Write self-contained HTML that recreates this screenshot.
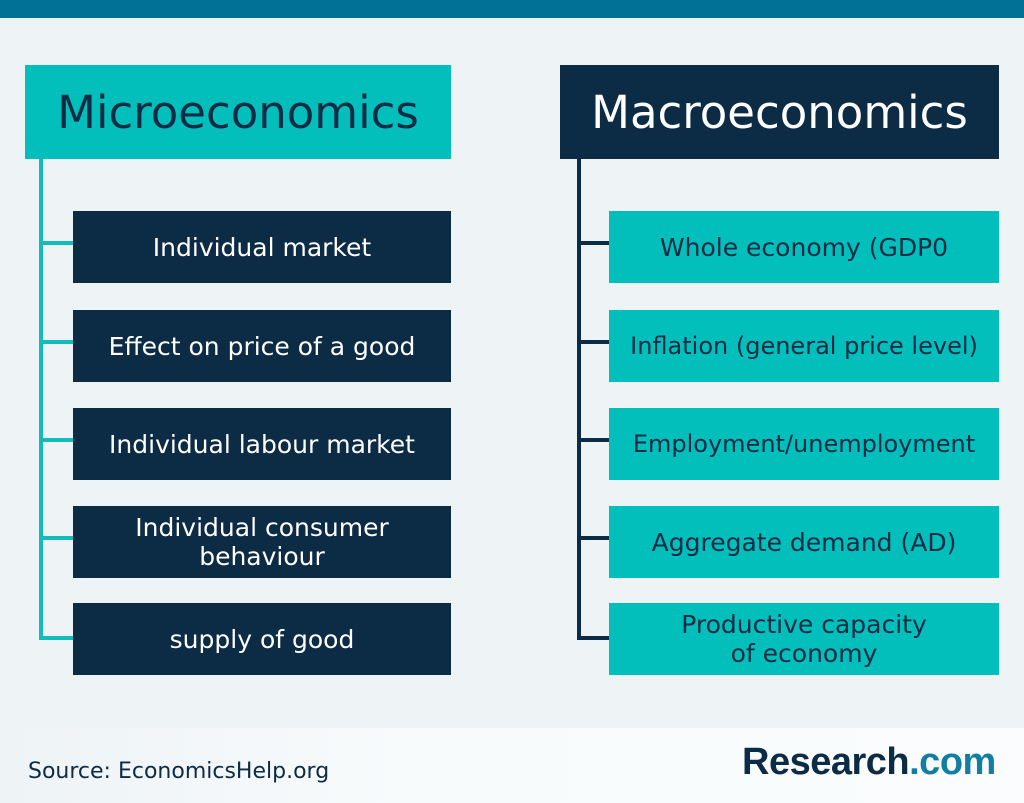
<!DOCTYPE html>
<html><head><meta charset="utf-8"><style>
body{margin:0;width:1024px;height:803px;overflow:hidden;background:#eef3f6;font-family:"DejaVu Sans","Liberation Sans",sans-serif;position:relative}
div{position:absolute;box-sizing:border-box}
.top{left:0;top:0;width:1024px;height:18px;background:#017296}
.hdr{top:65px;height:94px;display:flex;align-items:center;justify-content:center;font-size:45px}
.item{height:72px;display:flex;align-items:center;justify-content:center;text-align:center;font-size:25px;line-height:29px}
.l{left:73px;width:378px;background:#0c2b45;color:#fff}
.r{left:609px;width:390px;background:#03bfbc;color:#0c2b45}
.line{background:#14bcb9}
.rline{background:#0c2b45}
.foot{left:0;top:728px;width:1024px;height:75px;background:linear-gradient(90deg,#eef3f6,#f8fbfc 40%,#fafcfd)}
</style></head><body>
<div class="top"></div>
<div class="foot"></div>
<div class="hdr" style="left:25px;width:426px;background:#03bfbc;color:#0c2b45">Microeconomics</div>
<div class="hdr" style="left:560px;width:439px;background:#0c2b45;color:#fff">Macroeconomics</div>
<div class="line" style="left:39px;top:158px;width:4px;height:482px"></div>
<div class="rline" style="left:577px;top:158px;width:4px;height:482px"></div>
<div class="line" style="left:39px;top:241px;width:34px;height:4px"></div>
<div class="line" style="left:39px;top:340px;width:34px;height:4px"></div>
<div class="line" style="left:39px;top:438px;width:34px;height:4px"></div>
<div class="line" style="left:39px;top:536px;width:34px;height:4px"></div>
<div class="line" style="left:39px;top:636px;width:34px;height:4px"></div>
<div class="rline" style="left:577px;top:241px;width:32px;height:4px"></div>
<div class="rline" style="left:577px;top:340px;width:32px;height:4px"></div>
<div class="rline" style="left:577px;top:438px;width:32px;height:4px"></div>
<div class="rline" style="left:577px;top:536px;width:32px;height:4px"></div>
<div class="rline" style="left:577px;top:636px;width:32px;height:4px"></div>
<div class="item l" style="top:211px">Individual market</div>
<div class="item l" style="top:310px">Effect on price of a good</div>
<div class="item l" style="top:408px">Individual labour market</div>
<div class="item l" style="top:506px">Individual consumer<br>behaviour</div>
<div class="item l" style="top:603px">supply of good</div>
<div class="item r" style="top:211px">Whole economy (GDP0</div>
<div class="item r" style="top:310px;font-size:24px">Inflation (general price level)</div>
<div class="item r" style="top:408px;font-size:24px">Employment/unemployment</div>
<div class="item r" style="top:506px">Aggregate demand (AD)</div>
<div class="item r" style="top:603px">Productive capacity<br>of economy</div>
<div style="left:28px;top:759px;font-size:22px;color:#0c2b45">Source: EconomicsHelp.org</div>
<div style="left:742px;top:741px;font-size:38px;font-weight:bold;font-family:'Liberation Sans',sans-serif;color:#0c2b45;letter-spacing:-0.5px">Research<span style="color:#137fa0">.com</span></div>
</body></html>
